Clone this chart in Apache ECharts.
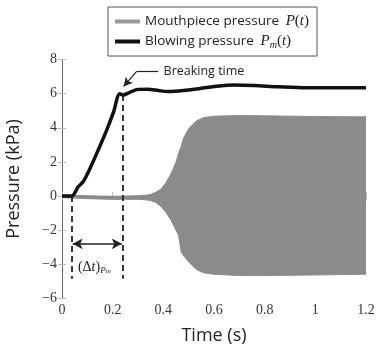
<!DOCTYPE html>
<html>
<head>
<meta charset="utf-8">
<script src="https://cdn.jsdelivr.net/npm/echarts@6/dist/echarts.min.js"></script>
<style>
  html, body { margin: 0; padding: 0; background: #fff; }
  #chart { width: 386px; height: 345px; }
</style>
</head>
<body>
<div id="chart"></div>
<script>
// Blowing pressure P_m(t), kPa
const blowTime = [0, 0.038, 0.064, 0.084, 0.11, 0.143, 0.176, 0.203, 0.228, 0.24, 0.268, 0.3, 0.34, 0.38, 0.42, 0.48, 0.545, 0.62, 0.68, 0.76, 0.85, 0.95, 1.05, 1.2];
const blowPressure = [0, 0, 0.55, 0.85, 1.6, 2.7, 3.85, 4.9, 6.0, 5.92, 6.08, 6.25, 6.26, 6.18, 6.12, 6.18, 6.3, 6.45, 6.5, 6.47, 6.4, 6.35, 6.34, 6.34];

// Mouthpiece pressure P(t): envelope of the oscillation, kPa
const envTime  = [0, 0.05, 0.1, 0.15, 0.2, 0.25, 0.3, 0.33, 0.35, 0.37, 0.39, 0.41, 0.43, 0.45, 0.46, 0.47, 0.48, 0.5, 0.53, 0.56, 0.6, 0.7, 0.8, 0.9, 1.0, 1.1, 1.2];
const envUpper = [0.06, 0.04, 0.02, 0.0, -0.01, 0.0, 0.02, 0.05, 0.1, 0.22, 0.4, 0.78, 1.3, 2.0, 2.5, 2.9, 3.4, 3.95, 4.4, 4.6, 4.68, 4.72, 4.7, 4.68, 4.66, 4.65, 4.64];
const envLower = [-0.1, -0.12, -0.15, -0.17, -0.19, -0.19, -0.19, -0.22, -0.26, -0.38, -0.6, -0.95, -1.4, -2.0, -2.3, -3.25, -3.5, -3.85, -4.3, -4.5, -4.58, -4.66, -4.65, -4.64, -4.62, -4.6, -4.58];

// Axis ticks
const xTicks = { min: 0, max: 1.2, interval: 0.2 };
const yTicks = { min: -6, max: 8, interval: 2 };

// Annotation anchors (data coordinates)
const startTime = 0.038;
const breakTime = 0.24;

function pairs(xs, ys) {
  return xs.map((x, i) => [x, ys[i]]);
}

const serif = 'Liberation Serif';
const sans = 'Open Sans';
const gray = '#8b8b8d';

function axisBase(extra) {
  return Object.assign({
    type: 'value',
    axisLine: { show: true, lineStyle: { color: '#666', width: 1 } },
    axisTick: { show: true, inside: true, length: 4, lineStyle: { color: '#bbb' } },
    splitLine: { show: false }
  }, extra);
}

const tickRich = { t: { fontFamily: serif, fontSize: 14, color: '#333' } };

const chart = echarts.init(document.getElementById('chart'));

const option = {
  animation: false,
  grid: { left: 62, right: 20, top: 59.5, bottom: 46.5, outerBoundsMode: 'none' },
  legend: {
    orient: 'vertical',
    left: 108,
    top: 7,
    padding: [7, 8, 6, 7],
    itemGap: 5,
    itemWidth: 25,
    itemHeight: 4,
    borderColor: '#555',
    borderWidth: 1,
    data: [
      { name: 'Mouthpiece pressure', icon: 'rect', itemStyle: { color: '#9a9a9a' } },
      { name: 'Blowing pressure', icon: 'rect', itemStyle: { color: '#111' } }
    ],
    formatter: function (name) {
      if (name === 'Mouthpiece pressure') return '{s|Mouthpiece pressure}  {m|P}{n|(}{m|t}{n|)}';
      return '{s|Blowing pressure}  {m|P}{sub|m}{n|(}{m|t}{n|)}';
    },
    textStyle: {
      rich: {
        s: { fontFamily: sans, fontSize: 13.5, color: '#222', lineHeight: 17 },
        m: { fontFamily: serif, fontSize: 15, fontStyle: 'italic', color: '#222', lineHeight: 17 },
        n: { fontFamily: serif, fontSize: 15, color: '#222', lineHeight: 17 },
        sub: { fontFamily: serif, fontSize: 10, fontStyle: 'italic', color: '#222', lineHeight: 10, verticalAlign: 'bottom' }
      }
    }
  },
  xAxis: [
    axisBase({
      min: xTicks.min, max: xTicks.max, interval: xTicks.interval,
      position: 'bottom',
      name: 'Time (s)', nameLocation: 'middle', nameGap: 28,
      nameTextStyle: { fontFamily: sans, fontSize: 18, color: '#222' },
      axisLabel: {
        margin: 5, rich: tickRich,
        formatter: v => '{t|' + v + '}'
      }
    }),
    axisBase({
      min: xTicks.min, max: xTicks.max, interval: xTicks.interval,
      position: 'top', axisLabel: { show: false }
    })
  ],
  yAxis: [
    axisBase({
      min: yTicks.min, max: yTicks.max, interval: yTicks.interval,
      position: 'left',
      name: 'Pressure (kPa)', nameLocation: 'middle', nameGap: 39,
      nameTextStyle: { fontFamily: sans, fontSize: 18, color: '#222' },
      axisLabel: {
        margin: 5, rich: tickRich,
        formatter: v => '{t|' + String(v).replace('-', '\u2212') + '}'
      }
    }),
    axisBase({
      min: yTicks.min, max: yTicks.max, interval: yTicks.interval,
      position: 'right', axisLabel: { show: false }
    })
  ],
  series: [
    {
      name: 'Mouthpiece pressure',
      type: 'line',
      showSymbol: false,
      data: pairs(envTime, envUpper),
      lineStyle: { color: gray, width: 1 },
      itemStyle: { color: gray },
      areaStyle: { color: gray, opacity: 1 },
      z: 2
    },
    {
      name: 'Mouthpiece pressure',
      type: 'line',
      showSymbol: false,
      data: pairs(envTime, envLower),
      lineStyle: { color: gray, width: 1 },
      itemStyle: { color: gray },
      areaStyle: { color: gray, opacity: 1 },
      z: 2
    },
    {
      name: 'Blowing pressure',
      type: 'line',
      showSymbol: false,
      smooth: 0.3,
      data: pairs(blowTime, blowPressure),
      lineStyle: { color: '#111', width: 3.5 },
      itemStyle: { color: '#111' },
      z: 4,
      markLine: {
        silent: true,
        symbol: 'none',
        label: { show: false },
        lineStyle: { color: '#222', width: 1.8, type: [6, 4] },
        data: [
          [{ coord: [startTime, 0] }, { coord: [startTime, -4.85] }],
          [{ coord: [breakTime, 5.92] }, { coord: [breakTime, -4.85] }],
          [
            { coord: [startTime + 0.004, -2.8], symbol: 'arrow', symbolSize: [8, 10], lineStyle: { type: 'solid', width: 1.5 } },
            { coord: [breakTime - 0.004, -2.8], symbol: 'arrow', symbolSize: [8, 10] }
          ],
          [
            { coord: [0.38, 7.31], lineStyle: { type: 'solid', width: 1.2 } },
            { coord: [0.295, 7.31] }
          ],
          [
            { coord: [0.295, 7.31], lineStyle: { type: 'solid', width: 1.2 } },
            { coord: [0.243, 6.42], symbol: 'arrow', symbolSize: [7, 9] }
          ]
        ]
      },
      markPoint: {
        silent: true,
        symbol: 'circle',
        symbolSize: 1,
        itemStyle: { color: 'rgba(0,0,0,0)' },
        data: [
          {
            coord: [0.395, 7.28],
            label: {
              show: true, position: 'right', distance: 1,
              formatter: 'Breaking time',
              fontFamily: sans, fontSize: 12.5, color: '#222'
            }
          },
          {
            coord: [0.057, -4.15],
            label: {
              show: true, position: 'right', distance: 1,
              formatter: '{n|(\u0394}{m|t}{n|)}{sub|P}{sub2|m}',
              rich: {
                n: { fontFamily: serif, fontSize: 14, color: '#222', lineHeight: 16 },
                m: { fontFamily: serif, fontSize: 14, fontStyle: 'italic', color: '#222', lineHeight: 16 },
                sub: { fontFamily: serif, fontSize: 9, fontStyle: 'italic', color: '#222', lineHeight: 10, verticalAlign: 'bottom' },
                sub2: { fontFamily: serif, fontSize: 7, fontStyle: 'italic', color: '#222', lineHeight: 6, verticalAlign: 'bottom' }
              }
            }
          }
        ]
      }
    }
  ]
};

chart.setOption(option);
window.onresize = () => chart.resize();
</script>
</body>
</html>
